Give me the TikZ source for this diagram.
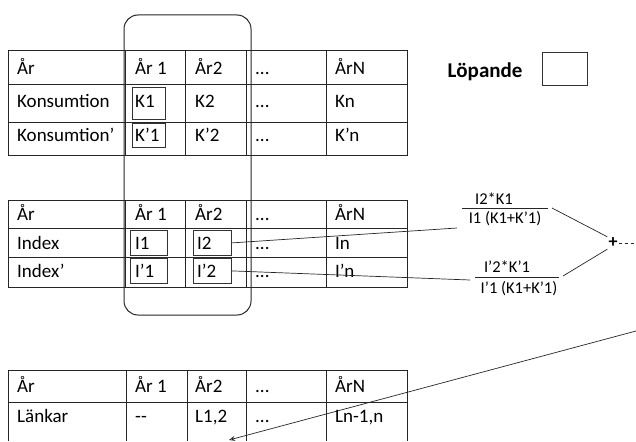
\documentclass[tikz,border=0pt]{standalone}
\usepackage{fontspec}
\setmainfont{Carlito}
\usetikzlibrary{arrows.meta}
\begin{document}
\begin{tikzpicture}[x=1pt,y=-1pt,
  grid/.style={draw=black!85,line width=1pt},
  cell/.style={anchor=base west,inner sep=0pt,font=\fontsize{19}{22}\selectfont},
  ibox/.style={draw=black!80,line width=0.8pt,inner sep=0pt,anchor=north west},
  conn/.style={draw=black!85,line width=0.7pt},
  frac/.style={inner sep=0pt,anchor=base,font=\fontsize{16.5}{18}\selectfont}]
\useasboundingbox (0,0) rectangle (636,441);
% running window
\draw[grid,rounded corners=14pt] (124,15) rectangle (251,315);
% ---------- table 1
\draw[grid] (8,51) rectangle (407,155);
\foreach \y in {85,122} \draw[grid] (8,\y) -- (407,\y);
\foreach \x in {125,185,246,326} \draw[grid] (\x,51) -- (\x,155);
\node[cell] (a00) at (17,75) {År};
\node[cell] (a01) at (135,75) {År 1};
\node[cell] (a02) at (195,75) {År2};
\node[cell] (a03) at (255,75) {...};
\node[cell] (a04) at (335,75) {ÅrN};
\node[cell] (a10) at (17,107) {Konsumtion};
\node[cell] (a11) at (135,107) {K1};
\node[cell] (a12) at (195,107) {K2};
\node[cell] (a13) at (255,107) {...};
\node[cell] (a14) at (335,107) {Kn};
\node[cell] (a20) at (17,141) {Konsumtion’};
\node[cell] (a21) at (135,141) {K’1};
\node[cell] (a22) at (195,141) {K’2};
\node[cell] (a23) at (255,141) {...};
\node[cell] (a24) at (335,141) {K’n};
\node[ibox,minimum width=33pt,minimum height=32pt] (bk1) at (132,87) {};
\node[ibox,minimum width=33pt,minimum height=24pt] (bk2) at (132,123) {};
% legend
\node[inner sep=0pt,font=\fontsize{21}{24}\selectfont\bfseries] (lop) at (485,72) {Löpande};
\node[ibox,line width=1.4pt,minimum width=45pt,minimum height=33pt] (lbox) at (542,52) {};
% ---------- table 2
\draw[grid] (8,200) rectangle (407,287);
\foreach \y in {228,257} \draw[grid] (8,\y) -- (407,\y);
\foreach \x in {125,185,246,326} \draw[grid] (\x,200) -- (\x,287);
\node[cell] (b00) at (17,220) {År};
\node[cell] (b01) at (135,220) {År 1};
\node[cell] (b02) at (195,220) {År2};
\node[cell] (b03) at (255,220) {...};
\node[cell] (b04) at (335,220) {ÅrN};
\node[cell] (b10) at (17,249) {Index};
\node[cell] (b11) at (135,249) {I1};
\node[cell] (b12) at (197,249) {I2};
\node[cell] (b13) at (255,249) {...};
\node[cell] (b14) at (335,249) {In};
\node[cell] (b20) at (17,277) {Index’};
\node[cell] (b21) at (135,277) {I’1};
\node[cell] (b22) at (197,277) {I’2};
\node[cell] (b23) at (255,277) {...};
\node[cell] (b24) at (335,277) {I’n};
\node[ibox,minimum width=37pt,minimum height=25pt] (bi1) at (130,230) {};
\node[ibox,minimum width=37pt,minimum height=25pt] (bi1p) at (130,258) {};
\node[ibox,minimum width=38pt,minimum height=25pt] (bi2) at (193,230) {};
\node[ibox,minimum width=38pt,minimum height=25pt] (bi2p) at (193,258) {};
% formulas
\node[frac] (f1n) at (494,204) {I2*K1};
\draw[conn] (462,208) coordinate (f1l) -- (548,208) coordinate (f1r);
\node[frac] (f1d) at (505,223) {I1 (K1+K'1)};
\node[frac] (f2n) at (507,272) {I'2*K'1};
\draw[conn] (475,277) coordinate (f2l) -- (559,277) coordinate (f2r);
\node[frac] (f2d) at (519,293) {I'1 (K1+K'1)};
\node[inner sep=1pt,font=\fontsize{18}{20}\selectfont\bfseries] (plus) at (613,243) {+};
\coordinate (f1in) at (457,228);
\coordinate (f2in) at (470,280);
\coordinate (pend) at (636,243);
\coordinate (lin) at (636,331);
\coordinate (lhit) at (229,440);
\draw[conn] (bi2.east) -- (f1in);
\draw[conn] (bi2p.east) -- (f2in);
\draw[conn] ([shift={(4pt,0pt)}]f1r) -- (plus.north west);
\draw[conn] ([shift={(4pt,1pt)}]f2r) -- (plus.south west);
\draw[conn,dashed] (plus.east) -- (pend);
\draw[conn,-{Stealth[length=6pt,width=5pt,open]}] (lin) -- (lhit);
% ---------- table 3
\draw[grid] (8,441) -- (8,370) -- (407,370) -- (407,441);
\draw[grid] (8,402) -- (407,402);
\foreach \x in {126,187,246,326} \draw[grid] (\x,370) -- (\x,441);
\node[cell] (c00) at (17,392) {År};
\node[cell] (c01) at (135,392) {År 1};
\node[cell] (c02) at (195,392) {År2};
\node[cell] (c03) at (255,392) {...};
\node[cell] (c04) at (335,392) {ÅrN};
\node[cell] (c10) at (17,422) {Länkar};
\node[cell] (c11) at (135,422) {{-}{-}};
\node[cell] (c12) at (195,422) {L1,2};
\node[cell] (c13) at (255,422) {...};
\node[cell] (c14) at (335,422) {Ln-1,n};
\end{tikzpicture}
\end{document}
